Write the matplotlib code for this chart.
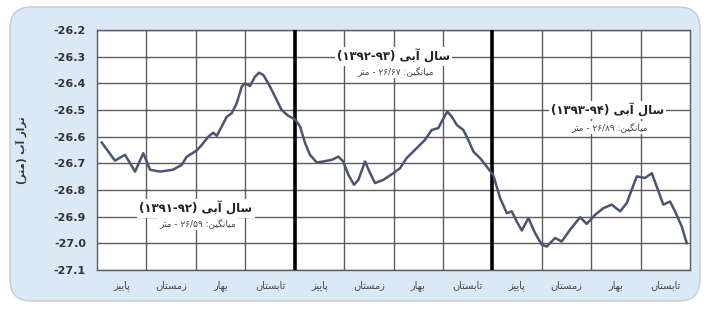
import matplotlib
matplotlib.use("Agg")
import matplotlib.pyplot as plt
from matplotlib.patches import FancyBboxPatch

# ---------------- data ----------------
months = [0.29, 1.09, 1.70, 2.31, 2.81, 3.22, 3.83, 4.61, 5.14, 5.45, 6.05, 6.36, 6.76, 7.06,
          7.27, 7.57, 7.88, 8.18, 8.48, 8.79, 8.99, 9.29, 9.59, 9.84, 10.10, 10.40, 10.81,
          11.21, 11.62, 12.02, 12.33, 12.63, 12.93, 13.34, 13.74, 14.25, 14.65, 14.95, 15.26,
          15.60, 15.87, 16.27, 16.58, 16.88, 17.38, 17.99, 18.40, 18.80, 19.31, 19.91, 20.32,
          20.72, 21.03, 21.27, 21.54, 21.84, 22.24, 22.54, 22.85, 23.25, 23.66, 24.06, 24.47,
          24.88, 25.18, 25.48, 25.79, 26.19, 26.59, 27.00, 27.30, 27.81, 28.21, 28.72, 29.33,
          29.73, 30.24, 30.74, 31.25, 31.76, 32.16, 32.46, 32.77, 33.27, 33.68, 33.98, 34.38,
          34.79, 35.09, 35.50, 35.80]
levels = [-26.622, -26.690, -26.668, -26.731, -26.662, -26.724, -26.731, -26.724, -26.706,
          -26.675, -26.652, -26.631, -26.600, -26.585, -26.597, -26.562, -26.525, -26.512,
          -26.475, -26.412, -26.400, -26.410, -26.375, -26.360, -26.369, -26.400, -26.450,
          -26.500, -26.522, -26.535, -26.562, -26.624, -26.668, -26.697, -26.693, -26.687,
          -26.675, -26.693, -26.743, -26.780, -26.762, -26.693, -26.737, -26.774, -26.762,
          -26.737, -26.718, -26.680, -26.649, -26.612, -26.575, -26.568, -26.531, -26.506,
          -26.525, -26.556, -26.575, -26.612, -26.656, -26.680, -26.712, -26.745, -26.830,
          -26.887, -26.880, -26.918, -26.952, -26.905, -26.961, -27.005, -27.012, -26.980,
          -26.993, -26.949, -26.902, -26.927, -26.893, -26.868, -26.855, -26.880, -26.849,
          -26.799, -26.749, -26.755, -26.737, -26.787, -26.855, -26.843, -26.880, -26.937,
          -26.999]
seasons = ["پاییز", "زمستان", "بهار", "تابستان"]
year_titles = ["(۱۳۹۱-۹۲)", "(۱۳۹۲-۹۳)", "(۱۳۹۳-۹۴)"]
year_means = ["۲۶/۵۹", "۲۶/۶۷", "۲۶/۸۹"]
y_ticks = [-26.2, -26.3, -26.4, -26.5, -26.6, -26.7, -26.8, -26.9, -27.0, -27.1]
y_label = "تراز آب"
y_unit = "متر"
title_word = "سال آبی"
mean_word = "میانگین"

# ---------------- simple Persian shaping ----------------
FORMS = {
    "ا": ("\uFE8D", "\uFE8E", None, None),
    "آ": ("\uFE81", "\uFE82", None, None),
    "ب": ("\uFE8F", "\uFE90", "\uFE91", "\uFE92"),
    "پ": ("\uFB56", "\uFB57", "\uFB58", "\uFB59"),
    "ت": ("\uFE95", "\uFE96", "\uFE97", "\uFE98"),
    "ر": ("\uFEAD", "\uFEAE", None, None),
    "ز": ("\uFEAF", "\uFEB0", None, None),
    "س": ("\uFEB1", "\uFEB2", "\uFEB3", "\uFEB4"),
    "ل": ("\uFEDD", "\uFEDE", "\uFEDF", "\uFEE0"),
    "م": ("\uFEE1", "\uFEE2", "\uFEE3", "\uFEE4"),
    "ن": ("\uFEE5", "\uFEE6", "\uFEE7", "\uFEE8"),
    "ه": ("\uFEE9", "\uFEEA", "\uFEEB", "\uFEEC"),
    "ی": ("\uFBFC", "\uFBFD", "\uFBFE", "\uFBFF"),
    "گ": ("\uFB92", "\uFB93", "\uFB94", "\uFB95"),
}


def dual(c):
    return c in FORMS and FORMS[c][2] is not None


def vis(text):
    out = []
    for i, c in enumerate(text):
        if c not in FORMS:
            out.append(c)
            continue
        prev = text[i - 1] if i > 0 else ""
        nxt = text[i + 1] if i + 1 < len(text) else ""
        jp = dual(prev)
        jn = dual(c) and nxt in FORMS
        iso, fin, ini, med = FORMS[c]
        if jp and jn:
            out.append(med)
        elif jp:
            out.append(fin)
        elif jn:
            out.append(ini)
        else:
            out.append(iso)
    return "".join(out)[::-1]


# ---------------- figure ----------------
W, H = 709, 309
fig = plt.figure(figsize=(W / 100, H / 100), dpi=100)
fig.patch.set_facecolor("white")

bg = FancyBboxPatch((10 / W, 8 / H), 690 / W, 294 / H,
                    boxstyle="round,pad=0,rounding_size=0.03",
                    transform=fig.transFigure, facecolor="#dbe8f5",
                    edgecolor="#c3ccd5", linewidth=1.0, zorder=-10,
                    mutation_aspect=W / H)
fig.patches.append(bg)

x0, x1 = 97, 690
ytop, ybot = 30, 270
ax = fig.add_axes([x0 / W, 1 - ybot / H, (x1 - x0) / W, (ybot - ytop) / H])
ax.set_zorder(1)
ax.set_facecolor("white")
ax.set_xlim(0, 36)
ax.set_ylim(-27.1, -26.2)

for m in range(3, 36, 3):
    if m in (12, 24):
        ax.axvline(m, color="black", lw=2.6, zorder=3)
    else:
        ax.axvline(m, color="#5c5c5c", lw=1.0, zorder=1)
for v in y_ticks:
    ax.axhline(v, color="#5c5c5c", lw=1.0, zorder=1)
for s in ax.spines.values():
    s.set_color("#5c5c5c")
    s.set_linewidth(1.0)

ax.plot(months, levels, color="#4b5472", lw=1.8, solid_joinstyle="round", zorder=4)

ax.set_yticks(y_ticks)
ax.set_yticklabels([f"{v:.1f}" for v in y_ticks], fontsize=8, color="#333333",
                   fontweight="bold")
ax.tick_params(axis="y", length=0, pad=8)

centers = [1.5 + 3 * i for i in range(12)]
ax.set_xticks(centers)
ax.set_xticklabels([vis(seasons[i % 4]) for i in range(12)], fontsize=7, color="#444444")
ax.tick_params(axis="x", length=0, pad=7)

fig.text(21 / W, 1 - 150 / H, "(" + vis(y_unit) + ") " + vis(y_label), rotation=90,
         ha="center", va="center", fontsize=7.5, fontweight="bold", color="#333333")

# year annotations (x in months, y in level units)
ann_pos = [(6.0, -26.87, -26.925), (18.0, -26.30, -26.355), (31.0, -26.50, -26.565)]
for (xm, yt, ys), yr, mean in zip(ann_pos, year_titles, year_means):
    ax.text(xm, yt, yr + " " + vis(title_word), ha="center", va="center", fontsize=8.5,
            fontweight="bold", color="#222222", zorder=5,
            bbox=dict(facecolor="white", edgecolor="none", pad=1.5))
    ax.text(xm + 0.1, ys, vis(y_unit) + " - " + mean + " :" + vis(mean_word), ha="center",
            va="center", fontsize=6.5, color="#444444", zorder=5,
            bbox=dict(facecolor="white", edgecolor="none", pad=1.2))

fig.savefig("out.png", dpi=100, facecolor=fig.get_facecolor())
